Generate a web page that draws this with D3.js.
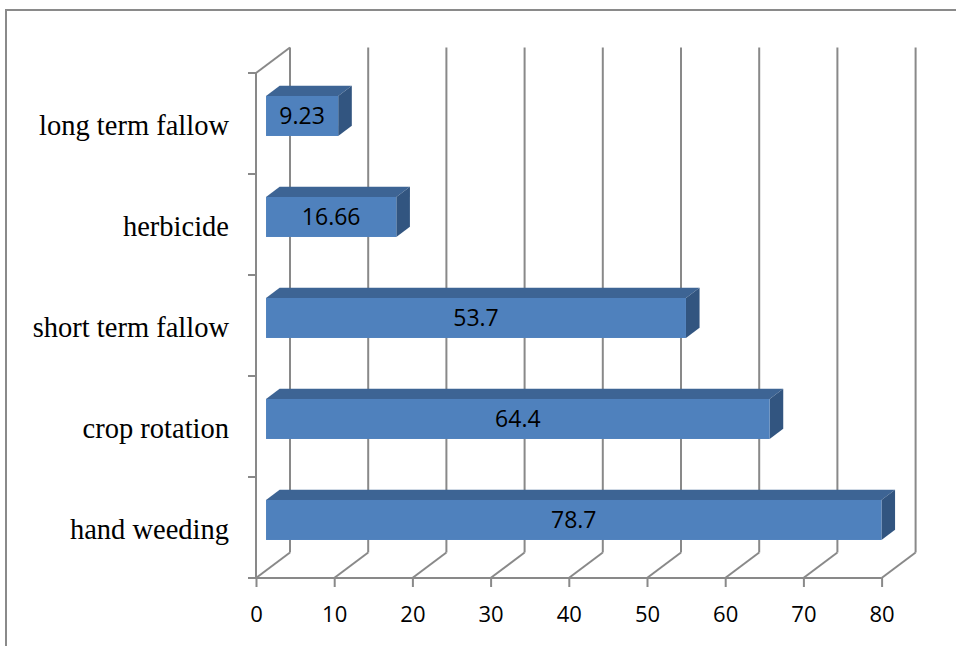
<!DOCTYPE html>
<html>
<head>
<meta charset="utf-8">
<script src="https://cdn.jsdelivr.net/npm/d3@7"></script>
<style>
  html, body { margin: 0; padding: 0; background: #fff; }
  svg { display: block; }
</style>
</head>
<body>
<svg id="chart" width="956" height="646"></svg>
<script>
// Weed control practices (bottom to top)
const categories = ["hand weeding", "crop rotation", "short term fallow", "herbicide", "long term fallow"];
const values = [78.7, 64.4, 53.7, 16.66, 9.23];
const tickValues = [0, 10, 20, 30, 40, 50, 60, 70, 80];

const svg = d3.select("#chart");

// Front plane of the 3D box
const plotLeft = 256, plotRight = 881.6, plotTop = 73, plotBottom = 578;
// Full depth of the box (front plane -> back wall)
const depth = { dx: 34, dy: -25.5 };
// Bars occupy a slice of the depth
const barFront = 0.295, barBack = 0.695;
const barHalf = 20;

const x = d3.scaleLinear().domain([0, 80]).range([plotLeft, plotRight]);
const y = d3.scaleBand().domain(categories.slice().reverse()).range([plotTop, plotBottom]);

const grid = "#898989";

// Outer frame (top and left edges)
svg.append("path")
  .attr("d", "M6,646 V10 H956")
  .attr("fill", "none").attr("stroke", "#8a8a8a").attr("stroke-width", 2);

const g = svg.append("g");

// Back-wall vertical gridlines
g.selectAll("line.grid").data(tickValues).join("line")
  .attr("class", "grid")
  .attr("x1", d => x(d) + depth.dx).attr("x2", d => x(d) + depth.dx)
  .attr("y1", plotTop + depth.dy).attr("y2", plotBottom + depth.dy)
  .attr("stroke", grid).attr("stroke-width", 2);

// Floor lines from front ticks to the back wall
g.selectAll("line.floor").data(tickValues).join("line")
  .attr("class", "floor")
  .attr("x1", d => x(d)).attr("x2", d => x(d) + depth.dx)
  .attr("y1", plotBottom).attr("y2", plotBottom + depth.dy)
  .attr("stroke", grid).attr("stroke-width", 2);

// Top edge of the side wall
g.append("line")
  .attr("x1", plotLeft).attr("y1", plotTop)
  .attr("x2", plotLeft + depth.dx).attr("y2", plotTop + depth.dy)
  .attr("stroke", grid).attr("stroke-width", 2);

// Value axis along the front floor edge
const xAxis = d3.axisBottom(x).tickValues(tickValues).tickSize(9).tickSizeOuter(0).tickFormat(d3.format("d"));
const xa = g.append("g").attr("transform", `translate(0,${plotBottom})`).call(xAxis);
xa.select(".domain").attr("stroke", grid).attr("stroke-width", 2)
  .attr("d", `M${plotLeft - 8},0H${plotRight}`);
xa.selectAll(".tick line").attr("stroke", grid).attr("stroke-width", 2);
xa.selectAll(".tick text")
  .attr("y", 0).attr("dy", 0)
  .attr("transform", "translate(0,44)")
  .attr("fill", "#000")
  .style("font-family", "'Open Sans', sans-serif")
  .style("font-size", "22px");

// Category axis on the front-left edge
const ya = g.append("g").attr("transform", `translate(${plotLeft},0)`);
ya.append("line")
  .attr("x1", 0).attr("x2", 0).attr("y1", plotTop).attr("y2", plotBottom)
  .attr("stroke", grid).attr("stroke-width", 2);
const bandEdges = categories.map(c => y(c)).concat([plotBottom]);
ya.selectAll("line.tk").data(bandEdges).join("line")
  .attr("class", "tk")
  .attr("x1", -8).attr("x2", 0)
  .attr("y1", d => d).attr("y2", d => d)
  .attr("stroke", grid).attr("stroke-width", 2);
ya.selectAll("text").data(categories).join("text")
  .attr("x", -27)
  .attr("y", d => y(d) + y.bandwidth() / 2 + 11.5)
  .attr("text-anchor", "end")
  .attr("fill", "#000")
  .style("font-family", "'Liberation Serif', 'Times New Roman', serif")
  .style("font-size", "28.5px")
  .text(d => d);

// 3D bars
const fx = depth.dx * barFront, fy = depth.dy * barFront;
const bdx = depth.dx * (barBack - barFront), bdy = depth.dy * (barBack - barFront);
const rows = categories.map((c, i) => ({ c, v: values[i] }));

const bars = g.selectAll("g.bar").data(rows).join("g").attr("class", "bar");
bars.each(function(d) {
  const sel = d3.select(this);
  const x0 = x(0) + fx, x1 = x(d.v) + fx;
  const yc = y(d.c) + y.bandwidth() / 2 + fy;
  const yt = yc - barHalf, yb = yc + barHalf;
  // top face
  sel.append("path")
    .attr("d", `M${x0},${yt}L${x1},${yt}L${x1 + bdx},${yt + bdy}L${x0 + bdx},${yt + bdy}Z`)
    .attr("fill", "#3d6494");
  // end face
  sel.append("path")
    .attr("d", `M${x1},${yt}L${x1 + bdx},${yt + bdy}L${x1 + bdx},${yb + bdy}L${x1},${yb}Z`)
    .attr("fill", "#325580");
  // front face
  sel.append("rect")
    .attr("x", x0).attr("y", yt)
    .attr("width", x1 - x0).attr("height", yb - yt)
    .attr("fill", "#4f81bd");
  // value label
  sel.append("text")
    .attr("x", (x0 + x1) / 2)
    .attr("y", yc + 8.5)
    .attr("text-anchor", "middle")
    .attr("fill", "#000")
    .style("font-family", "'Open Sans', sans-serif")
    .style("font-size", "23px")
    .text(d.v);
});
</script>
</body>
</html>
